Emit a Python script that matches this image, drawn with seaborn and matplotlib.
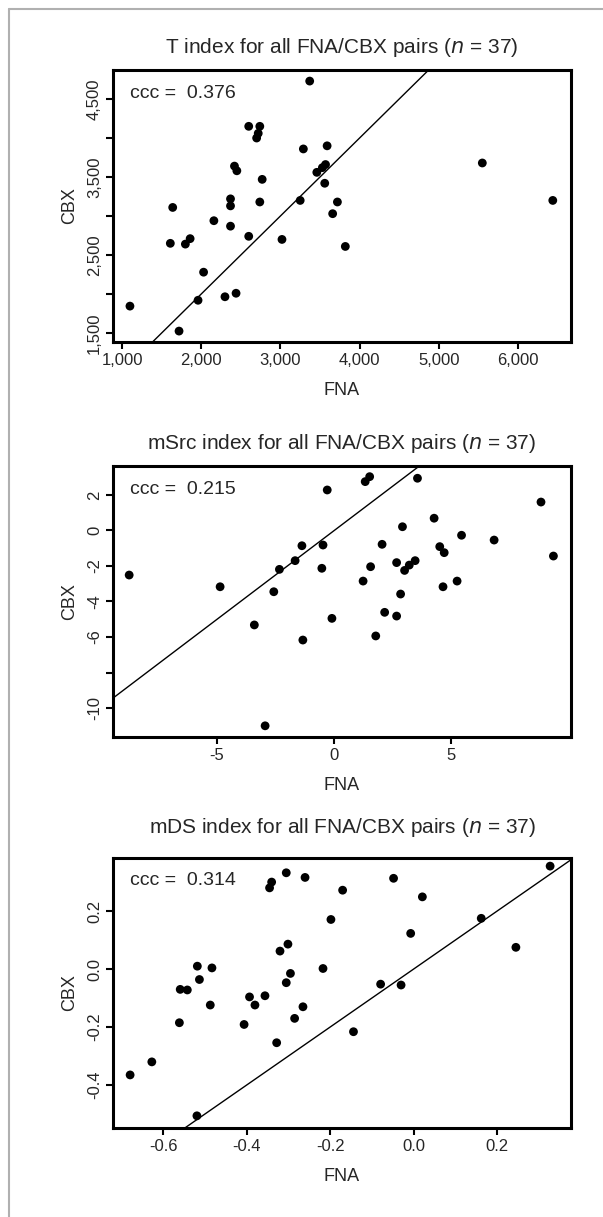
import matplotlib
matplotlib.use("Agg")
import matplotlib.pyplot as plt
from matplotlib.lines import Line2D
import pandas as pd
import seaborn as sns

# T index (FNA vs CBX)
t_fna = [3370, 2600, 2740, 2720, 2700, 3290, 3590, 2420, 2450, 3460,
         3530, 3570, 2770, 3560, 5550, 6440, 1640, 2370, 2370, 2740,
         3250, 3720, 3660, 2160, 1610, 1800, 1860, 2370, 2600, 3020,
         3820, 2030, 2300, 2440, 1960, 1100, 1720]
t_cbx = [4730, 4150, 4150, 4060, 4000, 3860, 3900, 3640, 3580, 3560,
         3620, 3660, 3470, 3420, 3680, 3200, 3110, 3220, 3130, 3180,
         3200, 3180, 3030, 2940, 2650, 2640, 2710, 2870, 2740, 2700,
         2610, 2280, 1965, 2010, 1920, 1845, 1525]

# mSrc index
msrc_fna = [-0.30, 1.32, 1.51, 3.55, 8.82, 4.26, 2.91, 5.43, 6.82, 2.04,
            -1.38, -0.48, 4.50, 4.69, 9.35, -1.67, -2.34, -0.53, 1.55, 2.66,
            3.45, 3.20, 3.00, -8.75, -4.87, -2.58, 1.23, 5.24, 4.64, 2.83,
            -3.41, -0.10, 2.15, 2.66, -1.34, 1.77, -2.95]
msrc_cbx = [2.28, 2.75, 3.03, 2.94, 1.60, 0.69, 0.21, -0.27, -0.54, -0.78,
            -0.86, -0.82, -0.91, -1.25, -1.44, -1.70, -2.19, -2.13, -2.04, -1.81,
            -1.70, -1.95, -2.25, -2.51, -3.17, -3.45, -2.85, -2.85, -3.17, -3.58,
            -5.32, -4.95, -4.61, -4.82, -6.17, -5.94, -11.0]

# mDS index
mds_fna = [-0.345, -0.340, -0.305, -0.260, -0.048, -0.170, 0.021, 0.327, -0.198, -0.007,
           0.162, 0.245, -0.301, -0.320, -0.518, -0.483, -0.295, -0.217, -0.513, -0.559,
           -0.542, -0.305, -0.079, -0.030, -0.393, -0.356, -0.380, -0.487, -0.265, -0.561,
           -0.406, -0.285, -0.328, -0.144, -0.627, -0.679, -0.519]
mds_cbx = [0.280, 0.300, 0.332, 0.316, 0.313, 0.272, 0.249, 0.355, 0.171, 0.123,
           0.175, 0.075, 0.086, 0.062, 0.010, 0.004, -0.015, 0.002, -0.036, -0.070,
           -0.072, -0.047, -0.052, -0.055, -0.096, -0.092, -0.124, -0.124, -0.130, -0.185,
           -0.191, -0.170, -0.254, -0.216, -0.320, -0.365, -0.506]

ccc_values = ["0.376", "0.215", "0.314"]
index_names = ["T", "mSrc", "mDS"]

sns.set_style("white")
plt.rcParams['font.family'] = ['Liberation Sans Narrow', 'Liberation Sans', 'DejaVu Sans']
plt.rcParams['axes.unicode_minus'] = False

W, H = 603, 1217
fig = plt.figure(figsize=(W / 100, H / 100), dpi=100)

# grey frame on the left/top edge of the figure
fig.add_artist(Line2D([9 / W, 9 / W], [0, 1 - 9 / H], color='#b0b0b0', lw=1.5))
fig.add_artist(Line2D([9 / W, 1], [1 - 9 / H, 1 - 9 / H], color='#b0b0b0', lw=1.5))


def panel_rect(top, bottom, left=113, right=571):
    return [left / W, 1 - bottom / H, (right - left) / W, (bottom - top) / H]


def draw_panel(ax, fna, cbx, name, ccc, xlim, ylim, xticks, xlabels, yticks, ylabels, title_pad):
    df = pd.DataFrame({'FNA': fna, 'CBX': cbx})
    sns.scatterplot(data=df, x='FNA', y='CBX', ax=ax, color='black', s=40,
                    edgecolor='none', linewidth=0)
    ax.axline((0, 0), slope=1, color='black', lw=1)
    ax.set_xlim(xlim)
    ax.set_ylim(ylim)
    ax.set_xticks(xticks)
    ax.set_xticklabels(xlabels, fontsize=12)
    ax.set_yticks(yticks)
    ax.set_yticklabels(ylabels, fontsize=12, rotation=90, va='center')
    ax.tick_params(direction='out', length=5, width=1.5, color='black',
                   bottom=True, left=True, pad=3)
    for side in ax.spines.values():
        side.set_color('black')
        side.set_linewidth(2.2)
    ax.set_xlabel('FNA', fontsize=13, labelpad=10)
    ax.set_ylabel('CBX', fontsize=13, labelpad=6)
    ax.set_title(f'{name} index for all FNA/CBX pairs ($n$ = 37)', fontsize=15, pad=title_pad)
    ax.text(0.037, 0.915, f'ccc =  {ccc}', transform=ax.transAxes, fontsize=14,
            va='center', ha='left')


ax1 = fig.add_axes(panel_rect(70, 342))
draw_panel(ax1, t_fna, t_cbx, index_names[0], ccc_values[0],
           (886, 6670), (1385, 4872),
           [1000, 2000, 3000, 4000, 5000, 6000],
           ['1,000', '2,000', '3,000', '4,000', '5,000', '6,000'],
           [1500, 2000, 2500, 3000, 3500, 4000, 4500],
           ['1,500', '', '2,500', '', '3,500', '', '4,500'], 12)

ax2 = fig.add_axes(panel_rect(466, 737))
draw_panel(ax2, msrc_fna, msrc_cbx, index_names[1], ccc_values[1],
           (-9.44, 10.1), (-11.63, 3.63),
           [-5, 0, 5], ['-5', '0', '5'],
           [2, 0, -2, -4, -6, -8, -10], ['2', '0', '-2', '-4', '-6', '', '-10'], 12)

ax3 = fig.add_axes(panel_rect(858, 1128))
draw_panel(ax3, mds_fna, mds_cbx, index_names[2], ccc_values[2],
           (-0.72, 0.377), (-0.548, 0.383),
           [-0.6, -0.4, -0.2, 0.0, 0.2], ['-0.6', '-0.4', '-0.2', '0.0', '0.2'],
           [-0.4, -0.2, 0.0, 0.2], ['-0.4', '-0.2', '0.0', '0.2'], 18)

fig.savefig('out.png', dpi=100)
